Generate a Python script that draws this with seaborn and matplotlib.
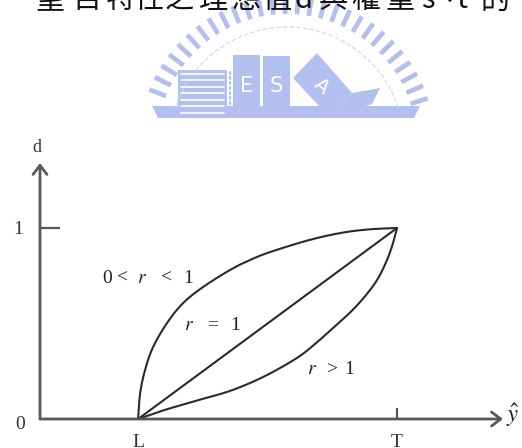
import numpy as np
import matplotlib
matplotlib.use("Agg")
import matplotlib.pyplot as plt
from matplotlib.patches import Polygon, Rectangle
import seaborn as sns
import pandas as pd

# ---- data ---------------------------------------------------------------
# target interval on the response axis
L_VAL = 1.0
T_VAL = 3.64
X_MAX = 4.72
D_MAX = 1.34

# desirability curves: position along [L, T] as a fraction, and d
t_low_r = [0, 0.008, 0.027, 0.058, 0.112, 0.174, 0.251, 0.355, 0.432, 0.510, 0.664, 0.792, 0.896, 1.0]
d_low_r = [0, 0.136, 0.257, 0.377, 0.503, 0.607, 0.691, 0.780, 0.832, 0.874, 0.938, 0.976, 0.993, 1.0]
t_one_r = [0, 1.0]
d_one_r = [0, 1.0]
t_high_r = [0, 0.097, 0.228, 0.355, 0.483, 0.614, 0.691, 0.741, 0.819, 0.876, 0.923, 0.958, 0.981, 1.0]
d_high_r = [0, 0.045, 0.097, 0.147, 0.220, 0.320, 0.402, 0.462, 0.558, 0.642, 0.728, 0.822, 0.906, 1.0]

curve_names = ["0 < r < 1", "r = 1", "r > 1"]
x_tick_labels = ["L", "T"]
y_tick_labels = ["1"]


def catmull_rom(xs, ys, per_seg=24):
    """Smooth path through the given points (uniform Catmull-Rom)."""
    p = np.column_stack([xs, ys]).astype(float)
    if len(p) < 3:
        return p[:, 0], p[:, 1]
    p = np.vstack([2 * p[0] - p[1], p, 2 * p[-1] - p[-2]])
    out = []
    s = np.linspace(0, 1, per_seg, endpoint=False)[:, None]
    for i in range(1, len(p) - 2):
        p0, p1, p2, p3 = p[i - 1], p[i], p[i + 1], p[i + 2]
        seg = 0.5 * ((2 * p1) + (-p0 + p2) * s + (2 * p0 - 5 * p1 + 4 * p2 - p3) * s ** 2
                     + (-p0 + 3 * p1 - 3 * p2 + p3) * s ** 3)
        out.append(seg)
    out.append(p[-2][None, :])
    out = np.vstack(out)
    return out[:, 0], out[:, 1]


# ---- figure -------------------------------------------------------------
sns.set_theme(style="white")
plt.rcParams["font.family"] = ["Liberation Serif", "DejaVu Sans"]
plt.rcParams["mathtext.fontset"] = "stix"

W, H = 522, 448
fig = plt.figure(figsize=(W / 100, H / 100), dpi=100, facecolor="white")

# background layer in pixel units: heading line and emblem
bg = fig.add_axes([0, 0, 1, 1], zorder=0)
bg.set_xlim(0, W)
bg.set_ylim(H, 0)
bg.axis("off")

heading = [("望", 50), ("目", 87), ("特", 120), ("性", 149), ("之", 179),
           ("理", 213), ("想", 246), ("值", 277), ("d", 303), ("與", 333),
           ("權", 366), ("重", 400), ("s", 428), ("、", 447), ("t", 462), ("的", 495)]
for ch, xc in heading:
    bg.text(xc, 8.5, ch, ha="center", va="baseline", fontsize=21, color="#111111",
            family=["Noto Sans CJK TC", "DejaVu Sans"])

blue = "#b2c0ef"
cx, cy, rad = 287, 144, 139
for ang in np.arange(18, 163, 5.2):
    a = np.deg2rad(ang)
    r0, r1 = rad - 9, rad + 9
    bg.plot([cx + r0 * np.cos(a), cx + r1 * np.cos(a)],
            [cy - r0 * np.sin(a), cy - r1 * np.sin(a)],
            color=blue, lw=3.4, solid_capstyle="butt")
arc = np.deg2rad(np.linspace(18, 162, 200))
bg.plot(cx + (rad - 22) * np.cos(arc), cy - (rad - 22) * np.sin(arc),
        color="#d0d6ec", lw=0.8, ls=(0, (4, 2)))

# base band
bg.add_patch(Polygon([[152, 106], [420, 106], [414, 118], [158, 118]], closed=True,
                     fc=blue, ec="none"))
# striped block
bg.add_patch(Rectangle((178, 70), 49, 48, fc=blue, ec="none"))
for yy in np.arange(74, 116, 6.5):
    bg.plot([181, 224], [yy, yy], color="white", lw=1.2)
for yy in np.arange(72, 116, 5):
    bg.plot([230, 230], [yy, yy + 2], color=blue, lw=1.6)
# E and S blocks
bg.add_patch(Rectangle((233, 55), 27, 63, fc=blue, ec="none"))
bg.add_patch(Rectangle((263, 56), 27, 62, fc=blue, ec="none"))
bg.text(246.5, 86, "E", ha="center", va="center", color="white", fontsize=15,
        family="DejaVu Sans")
bg.text(276.5, 86, "S", ha="center", va="center", color="white", fontsize=15,
        family="DejaVu Sans")
# tilted A block and slanted band
bg.add_patch(Polygon([[293, 78], [317, 53], [352, 93], [330, 118]], closed=True,
                     fc=blue, ec="none"))
bg.text(322, 86, "A", ha="center", va="center", color="white", fontsize=14,
        rotation=-40, family="DejaVu Sans")
bg.add_patch(Polygon([[330, 118], [352, 93], [380, 88], [372, 104]], closed=True,
                     fc=blue, ec="none"))

# ---- chart --------------------------------------------------------------
x0, y0, x1, y1 = 40, 419, 503, 163
ax = fig.add_axes([x0 / W, (H - y0) / H, (x1 - x0) / W, (y0 - y1) / H], zorder=2)
ax.patch.set_alpha(0)
ax.set_xlim(0, X_MAX)
ax.set_ylim(0, D_MAX)

rows = []
for name, ts, ds in zip(curve_names, [t_low_r, t_one_r, t_high_r],
                        [d_low_r, d_one_r, d_high_r]):
    ts_s, ds_s = catmull_rom(ts, ds)
    for t, d in zip(ts_s, ds_s):
        rows.append({"curve": name, "yhat": L_VAL + t * (T_VAL - L_VAL), "d": d})
df = pd.DataFrame(rows)
sns.lineplot(data=df, x="yhat", y="d", units="curve", estimator=None, sort=False,
             color="#2a2a2a", lw=1.5, ax=ax, legend=False)
ax.set_xlabel("")
ax.set_ylabel("")

for s in ax.spines.values():
    s.set_visible(False)

axis_col = "#585858"
arrow = dict(arrowstyle="->,head_length=0.55,head_width=0.42", lw=2.0,
             color=axis_col, shrinkA=0, shrinkB=0)
ax.annotate("", xy=(X_MAX, 0), xytext=(0, 0), arrowprops=arrow,
            annotation_clip=False, fontsize=12)
ax.annotate("", xy=(0, D_MAX), xytext=(0, 0), arrowprops=arrow,
            annotation_clip=False, fontsize=12)

ax.set_xticks([L_VAL, T_VAL], x_tick_labels)
ax.set_yticks([1.0], y_tick_labels)
ax.tick_params(axis="x", direction="in", length=8, width=1.6, color=axis_col,
               pad=11, labelsize=14, bottom=True)
ax.tick_params(axis="y", direction="in", length=14.5, width=1.6, color=axis_col,
               pad=12, labelsize=14, left=True)
ax.xaxis.get_major_ticks()[0].tick1line.set_visible(False)
for lab in ax.get_xticklabels() + ax.get_yticklabels():
    lab.set_color("#333333")

ax.text(-0.2, -0.03, "0", ha="center", va="center", fontsize=14, color="#333333")
ax.text(-0.03, D_MAX + 0.08, "d", ha="center", va="center", fontsize=13,
        color="#333333")
ax.text(X_MAX + 0.1, 0.02, r"$\hat{y}$", ha="center", va="center", fontsize=18,
        color="#222222")


def px_to_data(px, py):
    return (px - x0) / (x1 - x0) * X_MAX, (y0 - py) / (y0 - y1) * D_MAX


# curve annotations, token by token
labels = [
    [("0", 107), ("<", 123), ("$r$", 142), ("<", 166), ("1", 188)],
    [("$r$", 189), ("=", 213), ("1", 235)],
    [("$r$", 312), (">", 332), ("1", 349)],
]
label_rows = [278, 325, 370]
for toks, py in zip(labels, label_rows):
    for txt, px in toks:
        xd, yd = px_to_data(px, py)
        ax.text(xd, yd, txt, ha="center", va="center", fontsize=14, color="#222222")

fig.savefig("out.png", dpi=100, facecolor="white")
